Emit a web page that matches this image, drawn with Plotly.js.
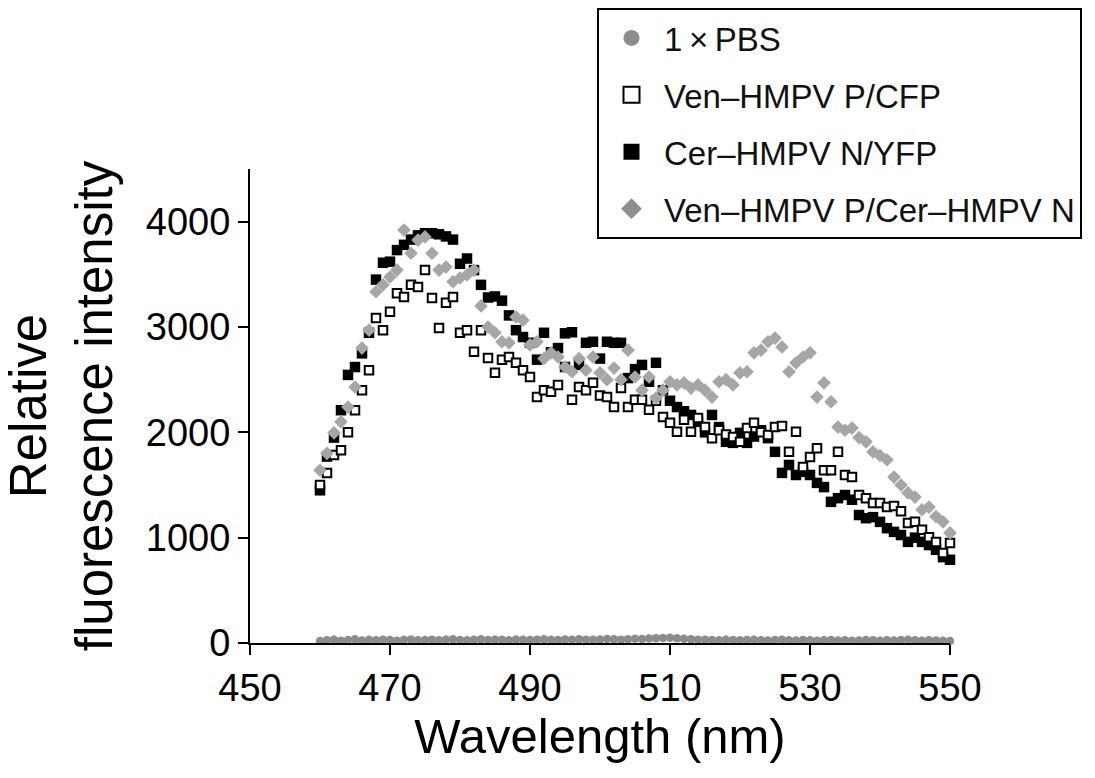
<!DOCTYPE html>
<html>
<head>
<meta charset="utf-8">
<script src="https://cdn.plot.ly/plotly-3.0.1.min.js"></script>
<style>html,body{margin:0;padding:0;background:#fff}#chart{width:1095px;height:778px}</style>
</head>
<body>
<div id="chart"></div>
<script>
// Wavelengths 460..550 nm (1 nm steps)
const wavelength = [460,461,462,463,464,465,466,467,468,469,470,471,472,473,474,475,476,477,478,479,480,481,482,483,484,485,486,487,488,489,490,491,492,493,494,495,496,497,498,499,500,501,502,503,504,505,506,507,508,509,510,511,512,513,514,515,516,517,518,519,520,521,522,523,524,525,526,527,528,529,530,531,532,533,534,535,536,537,538,539,540,541,542,543,544,545,546,547,548,549,550];

const pbs = [20,25,30,22,28,35,24,30,26,32,28,22,30,34,26,28,32,25,30,36,28,26,30,35,28,32,30,26,34,30,28,32,36,30,28,34,30,36,32,30,34,38,35,32,36,40,38,42,45,48,50,46,40,36,32,30,28,26,30,28,25,28,30,26,24,28,30,26,24,28,25,22,26,28,24,26,22,24,28,25,22,26,24,28,30,26,22,25,24,22,20];

const venPCFP = [1500,1615,1785,1830,2000,2210,2400,2590,3085,2970,3145,3320,3285,3400,3380,3540,3275,2990,3230,3285,2945,2970,2765,2970,2705,2565,2690,2715,2660,2590,2525,2335,2400,2385,2450,2620,2310,2430,2400,2470,2350,2335,2240,2420,2240,2310,2310,2215,2300,2145,2090,2005,2120,2005,2135,2050,1945,2020,1980,1955,1910,2040,2090,2000,1975,2050,2060,1815,2005,1670,1765,1850,1640,1640,1815,1595,1575,1405,1375,1330,1330,1290,1300,1250,1140,1150,1075,1005,960,855,950];

const cerNYFP = [1450,1770,1950,2210,2545,2620,2750,2945,3450,3610,3620,3730,3780,3830,3870,3890,3890,3880,3860,3830,3600,3650,3540,3400,3280,3290,3250,3110,2970,2905,2850,2690,2945,2760,2800,2940,2950,2640,2850,2860,2700,2860,2850,2850,2515,2600,2640,2480,2660,2400,2300,2240,2200,2165,2100,2000,2165,2050,1910,1900,1995,1900,1960,2020,1945,1815,1615,1690,1595,1625,1595,1520,1480,1340,1375,1405,1360,1215,1185,1195,1150,1090,1055,1025,960,1000,960,930,885,815,790];

const venPCerN = [1640,1800,1995,2100,2240,2430,2800,2970,3335,3400,3475,3540,3920,3700,3825,3855,3700,3540,3570,3430,3465,3495,3540,3200,3000,2945,2860,2850,3095,3065,2830,2860,2700,2755,2715,2620,2575,2700,2590,2715,2565,2500,2610,2500,2780,2525,2400,2525,2325,2400,2480,2450,2470,2420,2450,2400,2335,2480,2500,2450,2565,2575,2755,2780,2860,2895,2810,2575,2660,2715,2755,2335,2470,2290,2050,2020,2040,1950,1910,1815,1780,1740,1575,1500,1425,1385,1265,1290,1200,1150,1045];

const names = ['1\u2009\u00d7\u2009PBS','Ven\u2013HMPV P/CFP','Cer\u2013HMPV N/YFP','Ven\u2013HMPV P/Cer\u2013HMPV N'];
const xTicks = [450,470,490,510,530,550];
const yTicks = [0,1000,2000,3000,4000];

const FONT = 'Liberation Sans, Arial, Helvetica, sans-serif';
const pbsColor = '#8c8c8c', diaColor = '#a6a6a6';

const styles = [
  {symbol:'circle', color:pbsColor, line:{width:0}},
  {symbol:'square', color:'#ffffff', line:{color:'#000', width:2}},
  {symbol:'square', color:'#000000', line:{width:0}},
  {symbol:'diamond', color:diaColor, line:{width:0}}
];
const plotSizes = [8.5,8.5,10.5,10.5];
const legendSizes = [20,20,20,20];
const series = [pbs, venPCFP, cerNYFP, venPCerN];
const drawOrder = [0,2,1,3];

const traces = [];
drawOrder.forEach(i => {
  traces.push({
    type:'scatter', mode:'markers', x:wavelength, y:series[i], showlegend:false,
    cliponaxis:false, hoverinfo:'skip',
    marker:Object.assign({size:plotSizes[i]}, styles[i])
  });
});
[0,1,2,3].forEach(i => {
  traces.push({
    type:'scatter', mode:'markers', x:[null], y:[null], name:names[i],
    legendgroup:'g'+i, legendrank:i+1, showlegend:true,
    marker:Object.assign({size:legendSizes[i]}, styles[i], i===3?{color:'#8f8f8f'}:{})
  });
});

const layout = {
  width:1095, height:778,
  margin:{l:250, r:145, t:169, b:135, autoexpand:false},
  paper_bgcolor:'#fff', plot_bgcolor:'#fff',
  font:{family:FONT, color:'#000'},
  showlegend:true,
  legend:{
    xref:'container', yref:'container',
    x:597/1095, y:1-8/778, xanchor:'left', yanchor:'top',
    bordercolor:'#000', borderwidth:2, bgcolor:'#fff',
    font:{family:FONT, size:33, color:'#111'},
    tracegroupgap:11, itemwidth:55, traceorder:'grouped'
  },
  xaxis:{
    range:[450,550], tickvals:xTicks, ticktext:xTicks.map(String),
    showline:true, linecolor:'#000', linewidth:2,
    ticks:'outside', ticklen:10, tickwidth:2, tickcolor:'#000',
    showgrid:false, zeroline:false,
    tickfont:{family:FONT, size:38, color:'#000'},
    title:{text:'Wavelength (nm)', font:{family:FONT, size:49, color:'#000'}, standoff:6}
  },
  yaxis:{
    range:[0,4500], tickvals:yTicks, ticktext:yTicks.map(String),
    showline:true, linecolor:'#000', linewidth:2,
    ticks:'outside', ticklen:10, tickwidth:2, tickcolor:'#000',
    showgrid:false, zeroline:false,
    tickfont:{family:FONT, size:38, color:'#000'},
    title:{text:'Relative<br>fluorescence intensity', font:{family:FONT, size:51, color:'#000'}, standoff:22}
  }
};

Plotly.newPlot('chart', traces, layout, {displayModeBar:false, staticPlot:true});
</script>
</body>
</html>
